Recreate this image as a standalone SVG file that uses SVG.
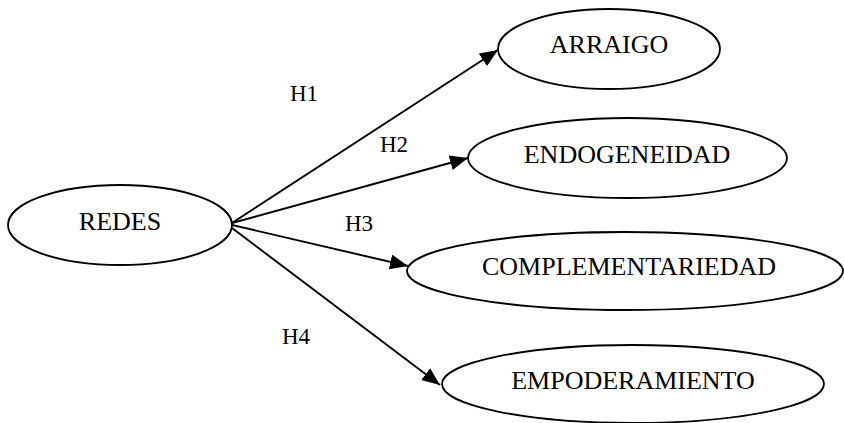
<svg xmlns="http://www.w3.org/2000/svg" width="844" height="423" viewBox="0 0 844 423">
  <style>
    .node ellipse { fill: #ffffff; stroke: #000000; stroke-width: 1.8; }
    .node text { font-family: "Liberation Serif", "Times New Roman", serif; font-size: 26px; fill: #000000; text-anchor: middle; }
    .edge line { stroke: #000000; stroke-width: 1.9; marker-end: url(#arrow); }
    .lbl { font-family: "Liberation Serif", "Times New Roman", serif; font-size: 23px; fill: #000000; }
  </style>
  <defs>
    <marker id="arrow" markerUnits="userSpaceOnUse" markerWidth="19" markerHeight="15" refX="18" refY="7.5" orient="auto">
      <path d="M0,0 L18,7.5 L0,15 Z" fill="#000000"/>
    </marker>
  </defs>
  <rect width="844" height="423" fill="#ffffff"/>

  <!-- connectors -->
  <g id="edges" class="edge">
    <line x1="232" y1="223" x2="498" y2="50"/>
    <line x1="232" y1="223" x2="468" y2="158"/>
    <line x1="232" y1="225" x2="408" y2="266"/>
    <line x1="232" y1="228" x2="440" y2="385"/>
  </g>

  <!-- hypothesis labels -->
  <g id="labels">
    <text class="lbl" x="290" y="101">H1</text>
    <text class="lbl" x="380" y="152">H2</text>
    <text class="lbl" x="345" y="231">H3</text>
    <text class="lbl" x="282" y="344">H4</text>
  </g>

  <g id="redes" class="node">
    <ellipse cx="120" cy="225" rx="112" ry="40"/>
    <text x="120" y="230">REDES</text>
  </g>
  <g id="arraigo" class="node">
    <ellipse cx="609" cy="49" rx="111" ry="40"/>
    <text x="609" y="53">ARRAIGO</text>
  </g>
  <g id="endogeneidad" class="node">
    <ellipse cx="627.5" cy="158" rx="159.5" ry="40"/>
    <text x="627" y="163">ENDOGENEIDAD</text>
  </g>
  <g id="complementariedad" class="node">
    <ellipse cx="625" cy="271" rx="218" ry="39"/>
    <text x="629" y="275">COMPLEMENTARIEDAD</text>
  </g>
  <g id="empoderamiento" class="node">
    <ellipse cx="633" cy="384" rx="191" ry="39"/>
    <text x="633" y="389">EMPODERAMIENTO</text>
  </g>
</svg>
